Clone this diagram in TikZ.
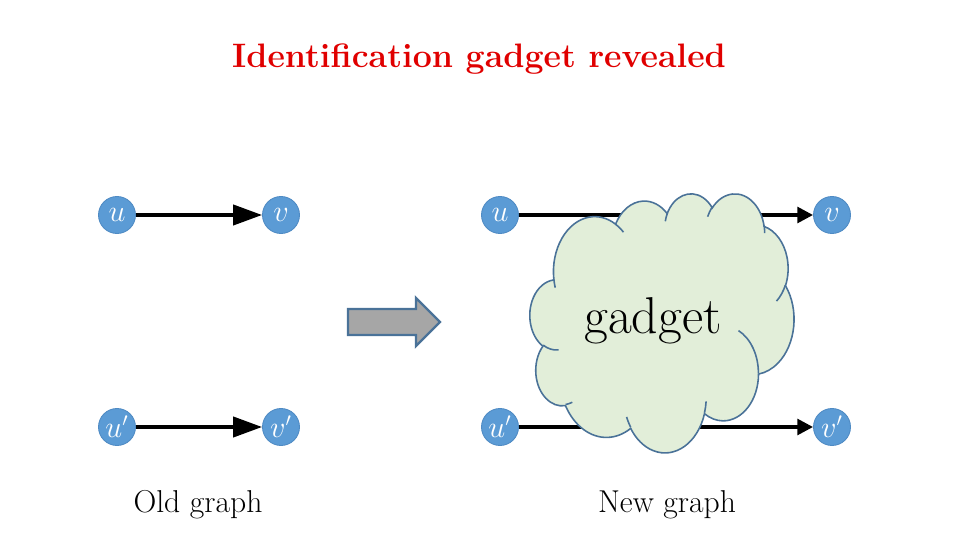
\documentclass[tikz,border=0pt]{standalone}
\usetikzlibrary{arrows.meta}
\definecolor{nodeblue}{HTML}{5B9BD5}
\definecolor{nodeedge}{HTML}{4F8BC4}
\definecolor{cloudfill}{HTML}{E2EED9}
\definecolor{cloudedge}{HTML}{4A7298}
\definecolor{titlered}{HTML}{E00000}
\definecolor{arrowgray}{HTML}{A6A6A6}
\newcommand{\ooarc}[4]{arc[x radius=#1, y radius=#2, start angle={atan2(#1*sin(#3),#2*cos(#3))}, delta angle={mod(atan2(#1*sin(#3+#4),#2*cos(#3+#4))-atan2(#1*sin(#3),#2*cos(#3))+720,360)}]}
\tikzset{
  vertex/.style={circle, fill=nodeblue, draw=nodeedge, line width=0.5pt, minimum size=0.74cm, inner sep=0pt, text=white, font=\fontsize{16}{16}\selectfont},
  bigedge/.style={line width=2pt, -{Triangle[length=16.5pt, width=11.5pt]}},
  smalledge/.style={line width=2pt, -{Triangle[length=9pt, width=9pt]}},
  caption/.style={font=\fontsize{18}{21}\selectfont, inner sep=0pt},
}
\begin{document}
\begin{tikzpicture}[x=0.02cm, y=-0.02cm]
\useasboundingbox (0,0) rectangle (960,540);
% title
\node[font=\bfseries\fontsize{19.3}{22}\selectfont, text=titlered, inner sep=0pt] (title) at (479,59) {Identification gadget revealed};
% old graph
\node[vertex] (u1) at (117,215) {$u$};
\node[vertex] (v1) at (281,215) {$v$};
\node[vertex] (u2) at (117,427) {$u'$};
\node[vertex] (v2) at (281,427) {$v'$};
\draw[bigedge] (u1) -- (v1);
\draw[bigedge] (u2) -- (v2);
% big arrow
\draw[fill=arrowgray, draw=cloudedge, line width=1.3pt, line join=miter]
  (348,309) -- (416,309) -- (416,298) -- (440,322) -- (416,346) -- (416,335) -- (348,335) -- cycle;
% new graph
\node[vertex] (u3) at (500,215) {$u$};
\node[vertex] (v3) at (832,215) {$v$};
\node[vertex] (u4) at (500,427) {$u'$};
\node[vertex] (v4) at (832,427) {$v'$};
\draw[smalledge] (u3) -- (v3);
\draw[smalledge] (u4) -- (v4);
% cloud
\begin{scope}[shift={(530,193)}, x=0.012222cm, y=-0.011991cm]
\draw[fill=cloudfill, draw=cloudedge, line width=0.9pt]
  (39.00,143.70)
  \ooarc{67.53}{91.90}{-190.4875}{123.7805}
  \ooarc{53.33}{72.67}{-144.1024}{89.9452}
  \ooarc{43.65}{59.45}{-145.8079}{99.7230}
  \ooarc{48.57}{65.95}{-130.9861}{117.2417}
  \ooarc{53.33}{72.73}{-78.7089}{109.0269}
  \ooarc{67.75}{92.20}{-46.2673}{130.2690}
  \ooarc{57.85}{78.67}{0.6250}{114.0333}
  \ooarc{67.52}{92.15}{22.4516}{115.1726}
  \ooarc{77.20}{105.43}{66.2426}{75.7110}
  \ooarc{43.60}{59.18}{-274.9421}{146.7356}
  \ooarc{43.45}{59.45}{-246.8285}{152.5189}
  -- cycle;
\draw[draw=cloudedge, line width=0.9pt]
  (46.93,261.77) \ooarc{43.45}{59.45}{86.7420}{26.4295}
  (69.28,348.99) \ooarc{43.60}{59.18}{73.6105}{11.4475}
  (164.78,390.90) \ooarc{67.52}{92.15}{137.6242}{14.0811}
  (288.27,347.51) \ooarc{67.52}{92.15}{6.4533}{15.9984}
  (341.29,229.54) \ooarc{57.85}{78.67}{-70.2924}{70.9174}
  (417.98,153.54) \ooarc{53.33}{72.73}{30.3180}{27.7515}
  (383.24,54.26) \ooarc{48.57}{65.95}{-13.7443}{14.8589}
  (290.78,39.52) \ooarc{48.57}{65.95}{-149.1815}{18.1954}
  (221.41,47.20) \ooarc{43.65}{59.45}{-163.4943}{17.6864}
  (140.00,51.92) \ooarc{67.53}{91.90}{-66.7070}{12.3194}
  (41.27,157.89) \ooarc{67.53}{91.90}{157.6544}{11.8582};
\end{scope}
\node[font=\fontsize{29.5}{33}\selectfont, inner sep=0pt] (gadget) at (653,321) {gadget};
% captions
\node[caption] (old) at (198,505) {Old graph};
\node[caption] (new) at (667,505) {New graph};
\end{tikzpicture}
\end{document}
